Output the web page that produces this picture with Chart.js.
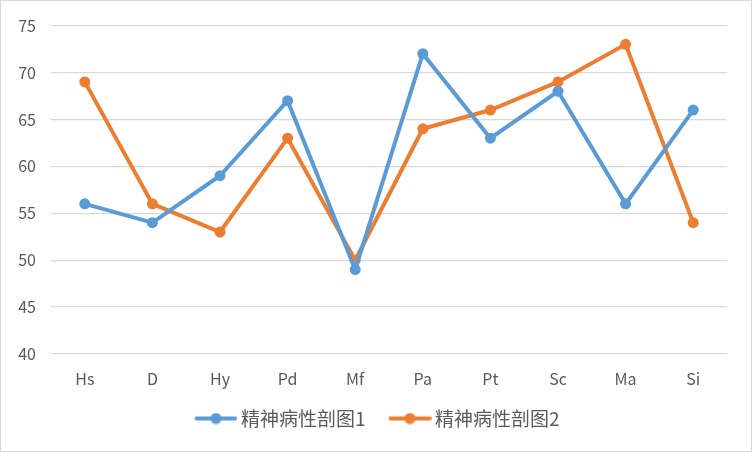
<!DOCTYPE html>
<html>
<head>
<meta charset="utf-8">
<script src="https://cdn.jsdelivr.net/npm/chart.js@4"></script>
<style>
  html, body { margin: 0; padding: 0; background: #fff; }
  #wrap { width: 752px; height: 452px; box-sizing: border-box; border: 1px solid #d9d9d9; }
</style>
</head>
<body>
<div id="wrap"><canvas id="chart" width="750" height="450"></canvas></div>
<script>
const categories = ["Hs", "D", "Hy", "Pd", "Mf", "Pa", "Pt", "Sc", "Ma", "Si"];
const profile1 = [56, 54, 59, 67, 49, 72, 63, 68, 56, 66];
const profile2 = [69, 56, 53, 63, 50, 64, 66, 69, 73, 54];
const seriesNames = ["精神病性剖图1", "精神病性剖图2"];
const yTicks = [40, 45, 50, 55, 60, 65, 70, 75];

const colors = ["#5b9bd5", "#ed7d31"];
const fontFamily = "'Noto Sans CJK SC', 'Noto Sans', sans-serif";
const textColor = "#595959";

// legend marker: short line with a dot on it
// canvas is wider than the legend box so the line sits close to the text
function marker(color) {
  const c = document.createElement("canvas");
  c.width = 57; c.height = 12;
  const g = c.getContext("2d");
  g.strokeStyle = color;
  g.lineWidth = 4;
  g.lineCap = "round";
  g.beginPath();
  g.moveTo(16, 6);
  g.lineTo(55, 6);
  g.stroke();
  g.fillStyle = color;
  g.beginPath();
  g.arc(35.5, 6, 5.5, 0, Math.PI * 2);
  g.fill();
  return c;
}

function makeSet(i, values) {
  return {
    label: seriesNames[i], data: values,
    borderColor: colors[i], backgroundColor: colors[i],
    borderWidth: 4, pointRadius: 5.5, pointBackgroundColor: colors[i],
    pointBorderWidth: 0, tension: 0
  };
}

// the legend in the picture sits a little right of centre
const nudgeLegend = {
  id: "nudgeLegend",
  afterLayout(chart) {
    chart.legend.left += 9;
    chart.legend.right += 9;
  }
};

const ctx = document.getElementById("chart").getContext("2d");
new Chart(ctx, {
  type: "line",
  data: {
    labels: categories,
    datasets: [makeSet(0, profile1), makeSet(1, profile2)]
  },
  plugins: [nudgeLegend],
  options: {
    responsive: false,
    animation: false,
    layout: { padding: { left: 0, right: 24, top: 13, bottom: 13 } },
    plugins: {
      legend: {
        position: "bottom",
        labels: {
          usePointStyle: true,
          pointStyleWidth: 45,
          boxHeight: 12,
          color: textColor,
          font: { family: fontFamily, size: 19 },
          padding: 15,
          generateLabels(chart) {
            const items = Chart.defaults.plugins.legend.labels.generateLabels(chart);
            items.forEach((it, i) => { it.pointStyle = marker(colors[i]); });
            return items;
          }
        }
      },
      tooltip: { enabled: false }
    },
    scales: {
      x: {
        offset: true,
        grid: { display: false },
        border: { display: false },
        ticks: { color: textColor, font: { family: fontFamily, size: 16 }, padding: 7 },
        afterFit(scale) { scale.height = 40; }
      },
      y: {
        min: 40, max: 75,
        afterBuildTicks(scale) { scale.ticks = yTicks.map(v => ({ value: v })); },
        grid: { color: "#d9d9d9", lineWidth: 1.3, drawTicks: false },
        border: { display: false },
        ticks: { color: textColor, font: { family: fontFamily, size: 16 }, padding: 15 },
        afterFit(scale) { scale.width = 50; }
      }
    }
  }
});
</script>
</body>
</html>
